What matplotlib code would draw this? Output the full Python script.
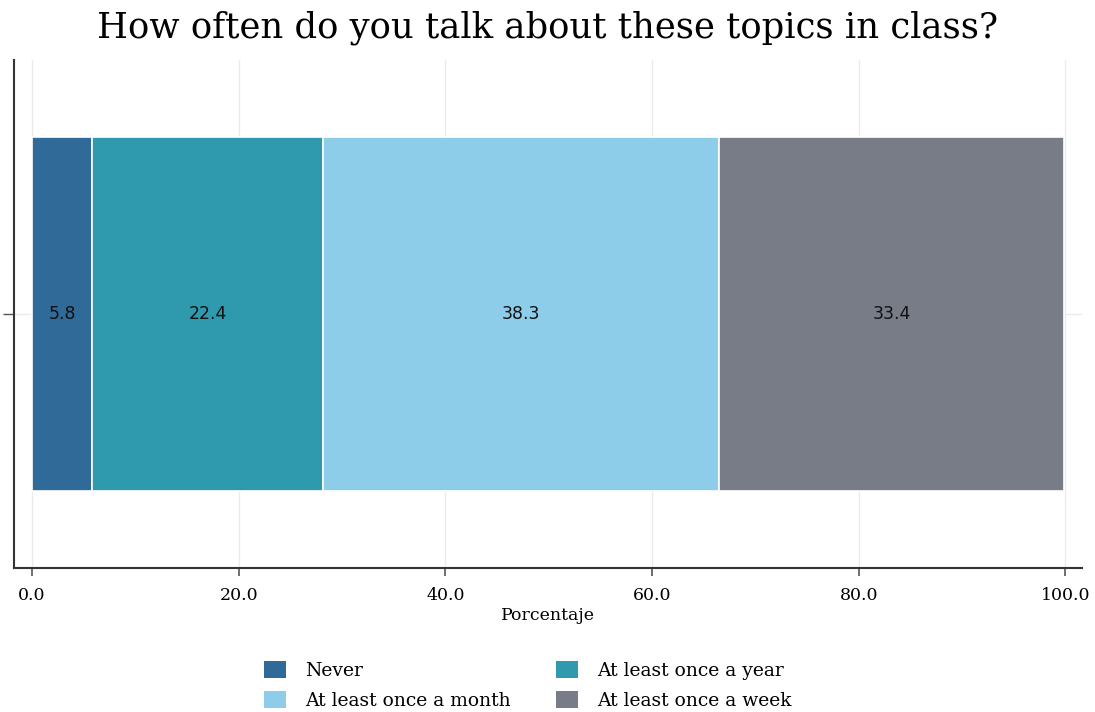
import numpy as np
import matplotlib.pyplot as plt
from matplotlib.patches import Patch

# --- Datos ---
categories = ["Never", "At least once a year", "At least once a month", "At least once a week"]
values = [5.8, 22.4, 38.3, 33.4]
colors = ["#2f6a98", "#2f9aae", "#8ecdea", "#777c87"]
xticks = [0, 20, 40, 60, 80, 100]

serif = ["DejaVu Serif"]

fig = plt.figure(figsize=(10.95, 7.12), dpi=100)
ax = fig.add_axes([0.0128, 0.2022, 0.9753, 0.7135])

left = 0.0
for cat, val, col in zip(categories, values, colors):
    ax.barh(0, val, left=left, height=0.7, color=col, edgecolor="white",
            linewidth=1.2, label=cat, zorder=3)
    ax.text(left + val / 2, 0, f"{val:.1f}", ha="center", va="center",
            fontsize=12.5, color="#111111", family=["DejaVu Sans"], zorder=4)
    left += val

ax.set_xlim(-1.74, 101.6)
ax.set_ylim(-0.503, 0.503)
ax.set_xticks(xticks)
ax.set_xticklabels([f"{t:.1f}" for t in xticks], family=serif, fontsize=12.5)
ax.set_yticks([0])
ax.set_yticklabels([""])
ax.tick_params(axis="x", length=6, width=1.2, color="#555555", pad=8)
ax.tick_params(axis="y", length=8, width=1.0, color="#555555")
ax.grid(True, color="#ebebeb", linewidth=1.0, zorder=0)

for side in ["top", "right"]:
    ax.spines[side].set_visible(False)
for side in ["left", "bottom"]:
    ax.spines[side].set_linewidth(1.5)
    ax.spines[side].set_color("#333333")

ax.set_xlabel("Porcentaje", family=serif, fontsize=12.5, labelpad=2)
fig.suptitle("How often do you talk about these topics in class?",
             family=serif, fontsize=25.5, y=0.985)

# la leyenda se llena por columnas
order = [0, 2, 1, 3]
handles = [Patch(facecolor=colors[i], edgecolor="none") for i in order]
labels = [categories[i] for i in order]
fig.legend(handles, labels, ncol=2, loc="lower center", bbox_to_anchor=(0.482, -0.021),
           frameon=False, prop={"family": serif, "size": 13.5},
           handlelength=1.2, handleheight=1.0, columnspacing=2.4,
           labelspacing=0.6, handletextpad=1.0)

fig.savefig("out.png", dpi=100)
